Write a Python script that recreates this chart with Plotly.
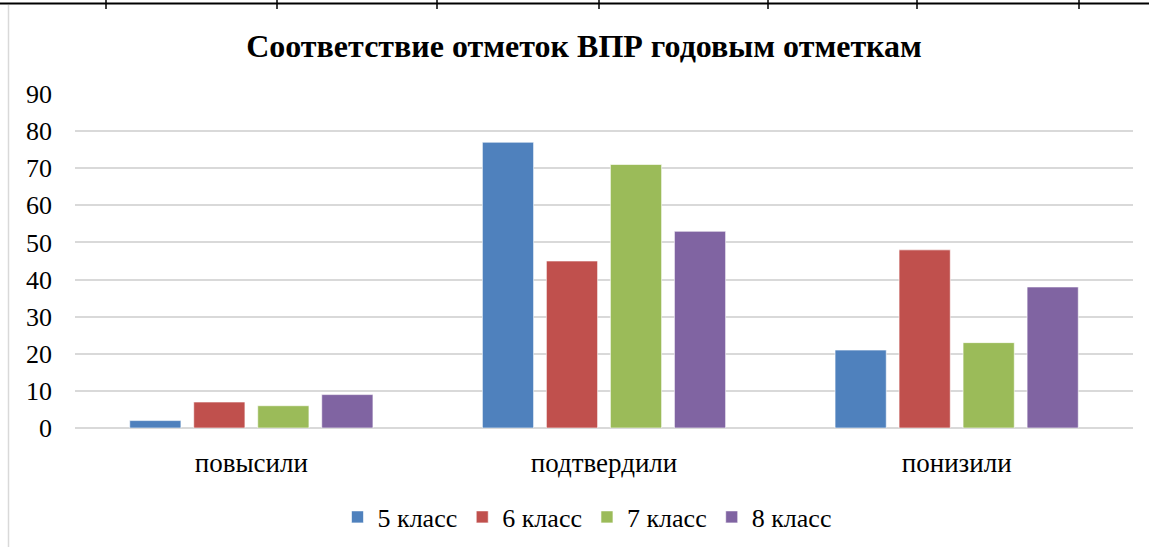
import plotly.graph_objects as go

categories = ["повысили", "подтвердили", "понизили"]
series_names = ["5 класс", "6 класс", "7 класс", "8 класс"]
values_5 = [2, 77, 21]
values_6 = [7, 45, 48]
values_7 = [6, 71, 23]
values_8 = [9, 53, 38]
y_ticks = [0, 10, 20, 30, 40, 50, 60, 70, 80, 90]

colors = ["#4F81BD", "#C0504D", "#9BBB59", "#8064A2"]
all_values = [values_5, values_6, values_7, values_8]

fig = go.Figure()
for name, vals, col in zip(series_names, all_values, colors):
    fig.add_trace(go.Bar(
        x=categories, y=vals, name=name,
        marker=dict(color=col, line=dict(color="rgba(255,255,255,0.6)", width=1)),
    ))

W, H = 1149, 547
L, R, T, B = 75, 16, 94, 119
PW, PH = W - L - R, H - T - B
SERIF = "Liberation Serif"

fig.update_layout(
    width=W, height=H, autosize=False,
    margin=dict(l=L, r=R, t=T, b=B, autoexpand=False),
    paper_bgcolor="white", plot_bgcolor="white",
    barmode="group", bargap=0.274, bargroupgap=0.2,
    font=dict(family=SERIF, size=26, color="#000000"),
    title=dict(text="<b>Соответствие отметок ВПР годовым отметкам</b>",
               x=584 / W, xanchor="center", y=1 - 46 / H, yanchor="middle",
               xref="container", yref="container",
               font=dict(size=32, family=SERIF, color="#000000")),
    legend=dict(orientation="h", x=(587 - L) / PW, xanchor="center", y=-(517 - 428) / PH, yanchor="middle",
                font=dict(size=26, family=SERIF), traceorder="normal", itemwidth=30),
    showlegend=True,
)
fig.update_xaxes(showgrid=False, showline=False, ticks="", ticklabelstandoff=16,
                 tickfont=dict(size=27, family=SERIF), automargin=False)
fig.update_yaxes(range=[0, 90], tickvals=y_ticks, showgrid=True, gridcolor="#D9D9D9",
                 gridwidth=2, zeroline=True, zerolinecolor="#D9D9D9", zerolinewidth=2,
                 showline=False, ticks="", ticklabelstandoff=22, automargin=False,
                 tickfont=dict(size=26, family=SERIF))


def px_x(x):
    return (x - L) / PW


def px_y(y):
    return (H - B - y) / PH


# decorative frame lines of the source document
shapes = [dict(type="line", xref="paper", yref="paper",
               x0=px_x(0), x1=px_x(W), y0=px_y(3.5), y1=px_y(3.5),
               line=dict(color="black", width=2))]
for tx in [106, 277, 437, 599, 768, 917, 1079]:
    shapes.append(dict(type="line", xref="paper", yref="paper", x0=px_x(tx), x1=px_x(tx),
                       y0=px_y(0), y1=px_y(9), line=dict(color="black", width=1.5)))
shapes.append(dict(type="line", xref="paper", yref="paper", x0=px_x(8.5), x1=px_x(8.5),
                   y0=px_y(5), y1=px_y(H), line=dict(color="#D9D9D9", width=1.5)))
fig.update_layout(shapes=shapes)

fig.write_html("out.html", config={"displayModeBar": False, "responsive": False},
               post_script="document.body.style.margin='0';document.body.style.overflow='hidden';")
